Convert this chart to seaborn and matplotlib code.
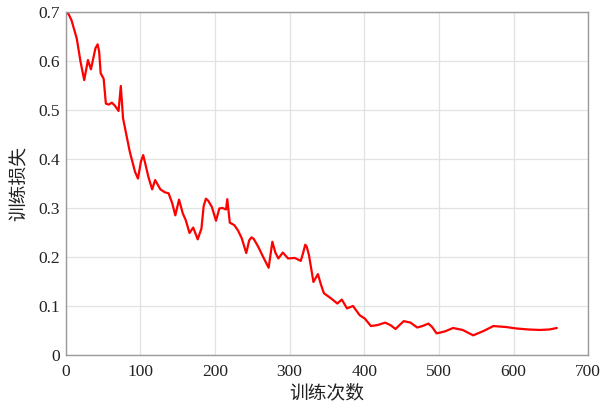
import numpy as np
import pandas as pd
import matplotlib
matplotlib.use("Agg")
import matplotlib.pyplot as plt
import seaborn as sns

# values
steps = [0, 4, 8, 15, 20, 25, 30, 34, 40, 43, 45, 47, 51, 54, 58, 62, 66, 71,
         74, 77, 86, 93, 97, 101, 104, 107, 111, 116, 120, 127, 133, 138, 143,
         147, 152, 157, 161, 166, 171, 177, 182, 185, 188, 191, 196, 201.5, 206,
         210, 215, 216.6, 220, 226, 231, 236, 242, 246, 249, 252, 258, 265, 272,
         277, 281, 285, 291, 298, 307, 315, 318, 321, 323, 326, 332, 338, 342,
         346, 356, 364, 370, 377, 385, 394, 401, 409, 418, 428, 435, 442, 448,
         453, 462, 471, 478, 486, 491, 497, 508, 519, 532, 546, 560, 573, 590,
         604, 620, 635, 648, 658]
loss = [0.700, 0.697, 0.684, 0.647, 0.600, 0.562, 0.603, 0.584, 0.627, 0.635,
        0.620, 0.576, 0.565, 0.514, 0.512, 0.516, 0.510, 0.499, 0.550, 0.484,
        0.416, 0.375, 0.361, 0.396, 0.409, 0.390, 0.364, 0.339, 0.358, 0.339,
        0.333, 0.331, 0.310, 0.286, 0.318, 0.290, 0.276, 0.250, 0.261, 0.237,
        0.259, 0.305, 0.320, 0.316, 0.303, 0.275, 0.300, 0.301, 0.298, 0.319,
        0.271, 0.266, 0.255, 0.239, 0.209, 0.235, 0.241, 0.238, 0.222, 0.200,
        0.179, 0.232, 0.210, 0.198, 0.210, 0.198, 0.199, 0.193, 0.208, 0.226,
        0.222, 0.205, 0.150, 0.166, 0.145, 0.127, 0.116, 0.106, 0.114, 0.096,
        0.101, 0.082, 0.075, 0.060, 0.062, 0.067, 0.062, 0.054, 0.063, 0.070,
        0.067, 0.057, 0.060, 0.065, 0.058, 0.045, 0.049, 0.056, 0.052, 0.041,
        0.050, 0.060, 0.058, 0.055, 0.053, 0.052, 0.053, 0.056]
xticks = [0, 100, 200, 300, 400, 500, 600, 700]
yticks = [0, 0.1, 0.2, 0.3, 0.4, 0.5, 0.6, 0.7]
x_label = "训练次数"
y_label = "训练损失"

df = pd.DataFrame({"step": steps, "loss": loss})

sns.set_theme(style="whitegrid")
plt.rcParams['font.family'] = ['Liberation Serif', 'Noto Sans CJK SC', 'DejaVu Sans']

fig = plt.figure(figsize=(6.07, 4.03), dpi=100)
ax = fig.add_axes([0.108, 0.118, 0.861, 0.851])
sns.lineplot(data=df, x="step", y="loss", color="#ff0000", linewidth=1.6, ax=ax)

ax.set_xlim(0, 700)
ax.set_ylim(0, 0.7)
ax.set_xticks(xticks)
ax.set_yticks(yticks)
ax.set_xticklabels([str(t) for t in xticks])
ax.set_yticklabels(["0" if t == 0 else f"{t:.1f}" for t in yticks])
ax.tick_params(axis="both", length=0, labelsize=12.5, colors="#222222")
ax.tick_params(axis="x", pad=6)
ax.tick_params(axis="y", pad=4)

ax.grid(True, color="#e2e2e2", linewidth=0.9)
for side in ["left", "bottom", "top", "right"]:
    ax.spines[side].set_visible(True)
    ax.spines[side].set_color("#9a9a9a")
    ax.spines[side].set_linewidth(1.0)

ax.set_xlabel(x_label, family=['Noto Sans CJK SC', 'DejaVu Sans'], fontsize=13.5,
              color="#222222", labelpad=1.5)
ax.set_ylabel(y_label, family=['Noto Sans CJK SC', 'DejaVu Sans'], fontsize=13.5,
              color="#222222", labelpad=6)

fig.savefig("out.png", dpi=100)
